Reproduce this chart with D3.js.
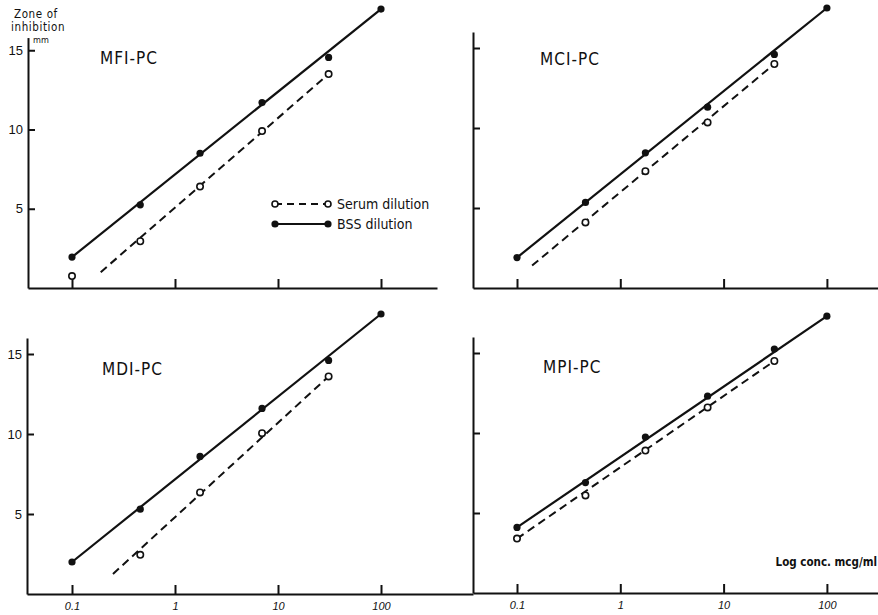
<!doctype html>
<html lang="en">
<head>
<meta charset="utf-8">
<title>Zone of inhibition vs log concentration</title>
<style>
  body { margin: 0; background: #fff; }
  svg { display: block; font-family: 'DejaVu Sans Condensed', 'DejaVu Sans', sans-serif; }
  .axis path, .axis line { stroke: #111; stroke-width: 2; }
  .axis text { fill: #111; font-size: 13px; }
  .xaxis text { font-size: 11px; font-style: italic; }
</style>
</head>
<body>
<svg width="878" height="615"></svg>
<script src="https://d3js.org/d3.v7.min.js"></script>
<script>
// concentrations (mcg/ml) of the plotted points
var concentrations = [0.1, 0.46, 1.75, 7, 31, 100];
var xTicks = [0.1, 1, 10, 100];
var xTickLabels = ["0.1", "1", "10", "100"];
var yTicks = [5, 10, 15];
var panelNames = ["MFI-PC", "MCI-PC", "MDI-PC", "MPI-PC"];

// zone of inhibition (mm), null = no point
var mfiBss   = [1.95, 5.25, 8.5, 11.7, 14.55, 17.6];
var mfiSerum = [0.75, 2.95, 6.4, 9.9, 13.5, null];
var mciBss   = [1.9, 5.35, 8.45, 11.3, 14.6, 17.5];
var mciSerum = [null, 4.1, 7.3, 10.35, 14.0, null];
var mdiBss   = [2.0, 5.3, 8.6, 11.6, 14.6, 17.5];
var mdiSerum = [null, 2.45, 6.35, 10.05, 13.6, null];
var mpiBss   = [4.1, 6.9, 9.75, 12.3, 15.25, 17.3];
var mpiSerum = [3.4, 6.1, 8.9, 11.6, 14.5, null];

// fitted lines: [conc, mm] end points
var mfiBssFit   = [[0.1, 1.95], [100, 17.6]];
var mfiSerumFit = [[0.19, 1.0], [31, 13.5]];
var mciBssFit   = [[0.1, 1.9], [100, 17.5]];
var mciSerumFit = [[0.14, 1.4], [31, 14.0]];
var mdiBssFit   = [[0.1, 2.0], [100, 17.5]];
var mdiSerumFit = [[0.25, 1.25], [31, 13.6]];
var mpiBssFit   = [[0.1, 4.1], [100, 17.3]];
var mpiSerumFit = [[0.1, 3.4], [31, 14.5]];

var svg = d3.select("svg");

// panel geometry (pixels)
var panels = [
  {name: panelNames[0], bss: mfiBss, serum: mfiSerum, bssFit: mfiBssFit, serumFit: mfiSerumFit,
   left: 28, right: 437, x0: 72, decade: 103, y0: 288, unit: 15.85, top: 15.8, yLabels: true, xLabels: false, lx: 100, ly: 64},
  {name: panelNames[1], bss: mciBss, serum: mciSerum, bssFit: mciBssFit, serumFit: mciSerumFit,
   left: 473, right: 878, x0: 517, decade: 103.3, y0: 288, unit: 16, top: 16.0, yLabels: false, xLabels: false, lx: 540, ly: 65},
  {name: panelNames[2], bss: mdiBss, serum: mdiSerum, bssFit: mdiBssFit, serumFit: mdiSerumFit,
   left: 27, right: 473, x0: 72, decade: 103, y0: 594, unit: 16, top: 16.0, yLabels: true, xLabels: true, lx: 102, ly: 375},
  {name: panelNames[3], bss: mpiBss, serum: mpiSerum, bssFit: mpiBssFit, serumFit: mpiSerumFit,
   left: 473, right: 878, x0: 517, decade: 103.3, y0: 593, unit: 16, top: 16.0, yLabels: false, xLabels: true, lx: 543, ly: 373}
];

panels.forEach(function(p) {
  var x = d3.scaleLog().domain([0.1, 100]).range([p.x0, p.x0 + 3 * p.decade]);
  // same scale, stretched to the drawn axis line
  var xa = x.copy().domain([x.invert(p.left), x.invert(p.right)]).range([p.left, p.right]);
  var y = d3.scaleLinear().domain([0, p.top]).range([p.y0, p.y0 - p.top * p.unit]);

  var g = svg.append("g");

  g.append("g")
      .attr("class", "axis xaxis")
      .attr("transform", "translate(0," + p.y0 + ")")
      .call(d3.axisBottom(xa).tickValues(xTicks).tickSizeInner(-9).tickSizeOuter(0).tickPadding(8)
        .tickFormat(function(d, i) { return p.xLabels ? xTickLabels[i] : ""; }));

  g.append("g")
      .attr("class", "axis yaxis")
      .attr("transform", "translate(" + p.left + ",0)")
      .call(d3.axisLeft(y).tickValues(yTicks).tickSizeInner(-7).tickSizeOuter(0).tickPadding(5)
        .tickFormat(function(d) { return p.yLabels ? d : ""; }));

  var line = d3.line()
      .x(function(d) { return x(d[0]); })
      .y(function(d) { return y(d[1]); });

  g.append("path")
      .attr("d", line(p.serumFit))
      .attr("fill", "none")
      .attr("stroke", "#111")
      .attr("stroke-width", 2)
      .attr("stroke-dasharray", "8,5");

  g.append("path")
      .attr("d", line(p.bssFit))
      .attr("fill", "none")
      .attr("stroke", "#111")
      .attr("stroke-width", 2.2);

  var serumPts = concentrations.map(function(c, i) { return [c, p.serum[i]]; })
      .filter(function(d) { return d[1] != null; });
  var bssPts = concentrations.map(function(c, i) { return [c, p.bss[i]]; });

  g.selectAll(".bss")
      .data(bssPts)
      .enter().append("circle")
        .attr("class", "bss")
        .attr("cx", function(d) { return x(d[0]); })
        .attr("cy", function(d) { return y(d[1]); })
        .attr("r", 3.6)
        .attr("fill", "#111");

  g.selectAll(".serum")
      .data(serumPts)
      .enter().append("circle")
        .attr("class", "serum")
        .attr("cx", function(d) { return x(d[0]); })
        .attr("cy", function(d) { return y(d[1]); })
        .attr("r", 3.2)
        .attr("fill", "#fff")
        .attr("stroke", "#111")
        .attr("stroke-width", 1.6);

  g.append("text")
      .attr("x", p.lx)
      .attr("y", p.ly)
      .attr("font-size", 17)
      .attr("letter-spacing", 1)
      .attr("fill", "#111")
      .text(p.name);
});

// y axis title
var ytitle = svg.append("g").attr("fill", "#111").attr("letter-spacing", 0.6);
ytitle.append("text").attr("x", 14).attr("y", 18).attr("font-size", 11.5).text("Zone of");
ytitle.append("text").attr("x", 11).attr("y", 31).attr("font-size", 11.5).text("inhibition");
ytitle.append("text").attr("x", 33).attr("y", 43).attr("font-size", 9).attr("letter-spacing", 0).text("mm");

// x axis title
svg.append("text")
    .attr("x", 877)
    .attr("y", 566)
    .attr("text-anchor", "end")
    .attr("font-size", 11.5)
    .attr("font-weight", "bold")
    .attr("fill", "#111")
    .text("Log conc. mcg/ml");

// legend
var legend = svg.append("g").attr("transform", "translate(275,204)");
legend.append("line").attr("x1", 0).attr("x2", 53).attr("y1", 0).attr("y2", 0)
    .attr("stroke", "#111").attr("stroke-width", 2).attr("stroke-dasharray", "7,5");
legend.selectAll(".lo").data([0, 53]).enter().append("circle")
    .attr("cx", function(d) { return d; }).attr("cy", 0).attr("r", 3)
    .attr("fill", "#fff").attr("stroke", "#111").attr("stroke-width", 1.6);
legend.append("text").attr("x", 62).attr("y", 5).attr("font-size", 14).attr("fill", "#111").text("Serum dilution");

legend.append("line").attr("x1", 0).attr("x2", 53).attr("y1", 20).attr("y2", 20)
    .attr("stroke", "#111").attr("stroke-width", 2.2);
legend.selectAll(".lf").data([0, 53]).enter().append("circle")
    .attr("cx", function(d) { return d; }).attr("cy", 20).attr("r", 3.6)
    .attr("fill", "#111");
legend.append("text").attr("x", 62).attr("y", 25).attr("font-size", 14).attr("fill", "#111").text("BSS dilution");
</script>
</body>
</html>
